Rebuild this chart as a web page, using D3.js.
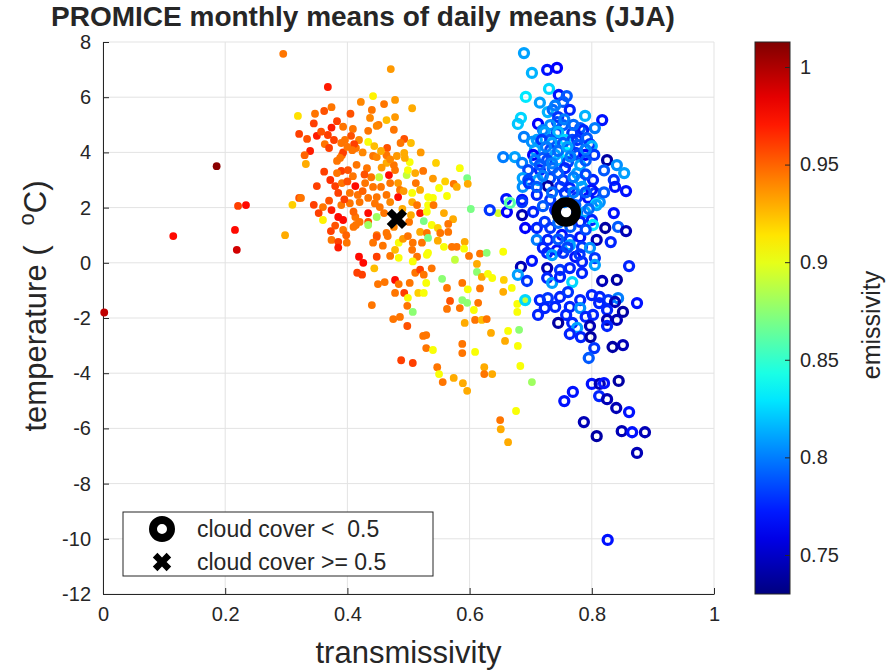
<!DOCTYPE html>
<html>
<head>
<meta charset="utf-8">
<title>PROMICE monthly means of daily means (JJA)</title>
<script src="https://d3js.org/d3.v7.min.js"></script>
<style>
  body { margin: 0; background: #fff; }
  text { font-family: "Liberation Sans", Arial, Helvetica, sans-serif; fill: #262626; }
</style>
</head>
<body>
<script>
var width = 888, height = 670;
var margin = { top: 42, right: 174, bottom: 76, left: 103 };

// cloud cover >= 0.5 : [transmissivity, temperature (C), emissivity]
var cloudyPoints = [
  [0.295,7.57,0.945],[0.319,5.32,0.915],[0.321,4.67,0.96],[0.186,3.50,1.01],[0.221,2.06,0.96],
  [0.234,2.09,0.975],[0.310,2.10,0.92],[0.321,2.35,0.955],[0.115,0.97,0.975],[0.216,1.19,0.975],
  [0.298,1.00,0.93],[0.219,0.47,0.99],[0.002,-1.80,0.995],[0.471,7.02,0.935],[0.368,6.37,0.97],
  [0.442,6.04,0.91],[0.422,5.83,0.94],[0.460,5.75,0.945],[0.478,5.90,0.935],[0.506,5.60,0.93],
  [0.347,5.40,0.945],[0.362,5.50,0.955],[0.374,5.64,0.945],[0.405,5.40,0.955],[0.440,5.54,0.945],
  [0.437,5.25,0.94],[0.464,5.17,0.925],[0.478,5.28,0.935],[0.451,5.00,0.945],[0.476,4.82,0.945],
  [0.383,5.13,0.96],[0.374,4.90,0.97],[0.393,4.93,0.945],[0.409,4.85,0.945],[0.434,4.78,0.945],
  [0.448,4.96,0.94],[0.334,4.49,0.955],[0.350,4.60,0.97],[0.368,4.63,0.96],[0.363,4.30,0.945],
  [0.370,4.16,0.96],[0.339,4.05,0.97],[0.390,4.34,0.945],[0.406,4.60,0.955],[0.419,4.45,0.94],
  [0.414,4.16,0.945],[0.434,4.38,0.905],[0.444,4.23,0.925],[0.465,4.16,0.955],[0.493,4.49,0.955],
  [0.487,4.34,0.945],[0.504,4.34,0.925],[0.332,3.58,0.93],[0.383,3.69,0.945],[0.391,3.90,0.945],
  [0.442,3.87,0.945],[0.448,3.83,0.94],[0.464,3.90,0.945],[0.481,3.87,0.935],[0.493,3.98,0.93],
  [0.502,3.65,0.905],[0.545,3.62,0.92],[0.584,3.43,0.905],[0.464,3.62,0.93],[0.476,3.54,0.945],
  [0.390,3.33,0.96],[0.383,3.25,0.945],[0.401,3.36,0.955],[0.409,3.14,0.945],[0.432,3.43,0.945],
  [0.439,3.10,0.945],[0.452,3.10,0.89],[0.468,3.18,0.975],[0.478,3.36,0.945],[0.497,3.18,0.89],
  [0.499,3.36,0.905],[0.511,3.25,0.93],[0.524,3.33,0.945],[0.596,3.07,0.87],[0.350,2.78,0.96],
  [0.380,2.78,0.96],[0.391,2.89,0.945],[0.413,2.78,0.975],[0.429,2.89,0.945],[0.442,2.75,0.945],
  [0.455,2.75,0.945],[0.470,2.89,0.945],[0.483,2.89,0.935],[0.486,2.64,0.945],[0.506,2.53,0.905],
  [0.512,2.89,0.945],[0.519,2.64,0.93],[0.532,2.38,0.905],[0.540,2.35,0.905],[0.550,2.71,0.905],
  [0.563,2.42,0.905],[0.574,2.86,0.945],[0.579,2.75,0.93],[0.597,2.86,0.93],[0.385,2.53,0.96],
  [0.404,2.53,0.945],[0.417,2.46,0.945],[0.434,2.35,0.945],[0.448,2.38,0.945],[0.464,2.46,0.945],
  [0.483,2.38,0.975],[0.506,2.20,0.93],[0.324,2.35,0.945],[0.360,2.02,0.945],[0.374,1.91,0.97],
  [0.390,2.09,0.945],[0.404,2.16,0.945],[0.420,2.20,0.945],[0.434,1.80,0.975],[0.453,2.02,0.945],
  [0.514,2.09,0.945],[0.519,1.80,0.97],[0.532,2.09,0.905],[0.541,2.09,0.945],[0.558,1.80,0.93],
  [0.573,1.58,0.93],[0.602,1.95,0.87],[0.353,1.80,0.96],[0.360,1.55,0.91],[0.385,1.66,0.975],
  [0.393,1.55,0.975],[0.413,1.66,0.945],[0.420,1.48,0.945],[0.434,1.48,0.955],[0.448,1.66,0.88],
  [0.434,1.37,0.88],[0.373,1.15,0.96],[0.393,1.19,0.945],[0.410,1.30,0.945],[0.501,1.48,0.945],
  [0.504,1.73,0.93],[0.525,1.51,0.87],[0.538,1.37,0.905],[0.548,1.26,0.92],[0.565,1.41,0.945],
  [0.565,1.12,0.945],[0.448,1.00,0.945],[0.464,1.08,0.945],[0.519,1.12,0.93],[0.530,1.08,0.945],
  [0.552,1.08,0.945],[0.374,0.83,0.945],[0.385,0.76,0.96],[0.385,0.55,0.97],[0.399,0.73,0.945],
  [0.414,1.37,0.945],[0.448,0.94,0.955],[0.466,0.97,0.945],[0.442,0.73,0.945],[0.458,0.62,0.945],
  [0.484,0.73,0.905],[0.478,0.47,0.925],[0.491,0.87,0.935],[0.499,0.97,0.945],[0.507,0.73,0.945],
  [0.522,0.73,0.945],[0.532,0.90,0.87],[0.532,0.36,0.905],[0.506,0.47,0.945],[0.514,0.22,0.945],
  [0.507,0.05,0.905],[0.530,0.29,0.905],[0.548,0.80,0.93],[0.558,0.58,0.905],[0.571,0.58,0.945],
  [0.579,0.58,0.945],[0.592,0.76,0.93],[0.591,0.51,0.905],[0.576,0.11,0.89],[0.599,0.25,0.945],
  [0.617,0.33,0.945],[0.628,0.36,0.875],[0.655,0.40,0.905],[0.448,0.22,0.96],[0.470,0.25,0.945],
  [0.484,0.18,0.905],[0.419,0.22,0.975],[0.426,0.00,0.975],[0.444,-0.20,0.925],[0.416,-0.36,0.96],
  [0.424,-0.43,0.96],[0.450,-0.77,0.945],[0.461,-0.70,0.945],[0.478,-0.62,0.975],[0.484,-0.77,0.945],
  [0.502,-0.73,0.945],[0.478,-1.09,0.945],[0.493,-1.09,0.96],[0.499,-1.27,0.905],[0.498,-1.56,0.945],
  [0.507,-1.78,0.875],[0.516,-1.09,0.92],[0.525,-1.09,0.905],[0.511,-0.36,0.945],[0.519,-0.25,0.96],
  [0.525,-0.43,0.945],[0.529,-0.73,0.905],[0.538,-0.20,0.945],[0.555,-0.58,0.875],[0.563,-0.91,0.945],
  [0.568,-1.38,0.955],[0.588,-0.73,0.945],[0.597,-0.96,0.905],[0.588,-1.35,0.875],[0.596,-1.45,0.875],
  [0.584,-1.64,0.945],[0.563,-1.67,0.945],[0.614,-1.45,0.945],[0.607,-1.71,0.905],[0.617,-0.93,0.945],
  [0.612,-0.04,0.93],[0.612,-0.33,0.875],[0.620,-0.51,0.93],[0.630,-0.40,0.905],[0.637,-0.55,0.905],
  [0.655,-1.05,0.93],[0.656,-0.62,0.92],[0.669,-0.91,0.905],[0.678,-1.49,0.905],[0.678,-1.78,0.905],
  [0.691,-1.35,0.89],[0.440,-1.53,0.945],[0.475,-2.04,0.945],[0.486,-1.96,0.945],[0.498,-2.29,0.955],
  [0.524,-2.65,0.945],[0.529,-2.62,0.945],[0.529,-3.09,0.945],[0.540,-3.16,0.905],[0.488,-3.53,0.96],
  [0.507,-3.63,0.96],[0.588,-2.94,0.945],[0.588,-3.27,0.945],[0.592,-2.18,0.93],[0.609,-2.07,0.945],
  [0.620,-2.07,0.925],[0.628,-2.04,0.945],[0.635,-2.54,0.93],[0.609,-3.23,0.905],[0.658,-2.83,0.93],
  [0.663,-2.47,0.905],[0.681,-2.43,0.875],[0.679,-3.01,0.905],[0.683,-3.74,0.905],[0.624,-3.78,0.93],
  [0.624,-4.03,0.945],[0.637,-4.03,0.93],[0.547,-3.78,0.945],[0.550,-4.03,0.905],[0.556,-4.32,0.945],
  [0.574,-4.17,0.93],[0.589,-4.36,0.93],[0.596,-4.64,0.93],[0.702,-4.32,0.88],[0.676,-5.37,0.905],
  [0.650,-5.70,0.945],[0.651,-6.03,0.93],[0.663,-6.50,0.93],[0.647,1.80,0.895],[0.396,4.45,0.945],
  [0.411,4.30,0.96],[0.393,4.00,0.96],[0.408,4.08,0.945],[0.388,3.80,0.945],[0.494,3.80,0.93],
  [0.362,3.30,0.96],[0.357,4.75,0.955],[0.378,4.45,0.96],[0.400,4.20,0.945],[0.425,4.00,0.94],
  [0.455,4.05,0.93],[0.470,3.75,0.94],[0.415,3.55,0.945],[0.428,3.20,0.955],[0.456,3.45,0.935],
  [0.372,3.00,0.965],[0.400,2.95,0.955],[0.425,2.60,0.95],[0.395,2.30,0.96],[0.445,2.15,0.945],
  [0.470,2.20,0.94],[0.492,2.60,0.935],[0.370,2.25,0.955],[0.345,2.10,0.96],[0.410,1.85,0.95],
  [0.460,1.80,0.945],[0.490,1.95,0.93],[0.530,1.85,0.905],[0.380,1.35,0.955],[0.398,1.00,0.95],
  [0.476,1.30,0.94],[0.540,3.05,0.935],[0.560,2.95,0.92],[0.520,4.00,0.935],[0.345,5.05,0.96],
  [0.330,3.90,0.95]
];

// cloud cover < 0.5 : [transmissivity, temperature (C), emissivity]
var clearPoints = [
  [0.689,7.60,0.81],[0.702,6.88,0.815],[0.727,6.99,0.77],[0.743,7.06,0.765],[0.730,6.30,0.825],
  [0.692,6.01,0.83],[0.746,6.08,0.77],[0.759,6.04,0.79],[0.753,5.83,0.79],[0.764,5.54,0.775],
  [0.728,5.46,0.815],[0.736,5.54,0.795],[0.745,5.28,0.78],[0.789,5.32,0.815],[0.817,5.17,0.77],
  [0.684,5.25,0.825],[0.679,5.03,0.82],[0.712,5.03,0.765],[0.743,5.10,0.785],[0.732,4.99,0.805],
  [0.753,4.99,0.79],[0.720,4.81,0.80],[0.743,4.70,0.785],[0.781,4.88,0.79],[0.805,4.88,0.80],
  [0.723,4.74,0.81],[0.745,4.74,0.815],[0.768,4.70,0.78],[0.786,4.81,0.775],[0.689,4.56,0.80],
  [0.710,4.45,0.81],[0.732,4.45,0.79],[0.702,4.38,0.805],[0.718,4.45,0.78],[0.735,4.34,0.81],
  [0.756,4.45,0.825],[0.768,4.45,0.785],[0.753,4.34,0.79],[0.776,4.45,0.78],[0.777,4.27,0.79],
  [0.792,4.52,0.79],[0.797,4.30,0.78],[0.800,4.23,0.815],[0.707,4.09,0.81],[0.732,4.09,0.785],
  [0.655,3.83,0.80],[0.674,3.83,0.81],[0.686,3.62,0.80],[0.704,3.91,0.765],[0.720,3.80,0.79],
  [0.740,3.91,0.81],[0.759,3.98,0.835],[0.773,3.98,0.78],[0.777,3.91,0.785],[0.789,3.91,0.765],
  [0.804,3.91,0.78],[0.825,3.72,0.74],[0.841,3.54,0.805],[0.853,3.25,0.81],[0.707,3.72,0.80],
  [0.727,3.72,0.785],[0.745,3.72,0.815],[0.761,3.65,0.785],[0.781,3.54,0.81],[0.696,3.36,0.785],
  [0.715,3.36,0.775],[0.736,3.43,0.795],[0.756,3.43,0.775],[0.776,3.25,0.81],[0.687,3.07,0.81],
  [0.696,3.00,0.785],[0.712,3.00,0.81],[0.732,3.07,0.785],[0.753,3.00,0.78],[0.781,3.00,0.81],
  [0.802,3.00,0.775],[0.836,3.00,0.78],[0.838,2.75,0.77],[0.856,2.60,0.77],[0.687,2.75,0.805],
  [0.697,2.89,0.78],[0.728,2.78,0.74],[0.748,2.75,0.78],[0.764,2.71,0.775],[0.784,2.75,0.81],
  [0.805,2.53,0.78],[0.800,2.64,0.77],[0.686,2.28,0.77],[0.710,2.46,0.775],[0.732,2.28,0.78],
  [0.756,2.53,0.78],[0.776,2.38,0.78],[0.794,2.35,0.77],[0.813,2.20,0.805],[0.807,2.13,0.83],
  [0.633,1.91,0.78],[0.660,2.31,0.77],[0.661,1.84,0.765],[0.666,2.17,0.86],[0.686,2.20,0.78],
  [0.686,1.73,0.745],[0.704,1.84,0.775],[0.776,1.80,0.78],[0.789,1.84,0.81],[0.808,2.09,0.81],
  [0.836,1.80,0.77],[0.740,1.91,0.775],[0.773,2.09,0.79],[0.691,1.26,0.765],[0.710,1.26,0.775],
  [0.723,1.48,0.78],[0.732,1.26,0.78],[0.781,1.48,0.775],[0.800,1.55,0.775],[0.802,1.37,0.83],
  [0.822,1.26,0.74],[0.843,1.30,0.79],[0.856,1.15,0.745],[0.710,0.83,0.80],[0.728,0.83,0.775],
  [0.751,1.01,0.77],[0.764,0.83,0.78],[0.781,0.93,0.77],[0.808,0.83,0.745],[0.831,0.75,0.775],
  [0.720,0.54,0.775],[0.743,0.46,0.77],[0.764,0.64,0.81],[0.784,0.57,0.78],[0.797,0.54,0.805],
  [0.727,0.36,0.775],[0.735,0.28,0.81],[0.753,0.36,0.78],[0.773,0.21,0.77],[0.784,0.03,0.775],
  [0.805,0.17,0.78],[0.805,-0.08,0.81],[0.861,-0.12,0.775],[0.702,0.07,0.77],[0.684,-0.15,0.745],
  [0.727,-0.19,0.745],[0.748,-0.26,0.78],[0.764,-0.19,0.775],[0.679,-0.44,0.81],[0.694,-0.66,0.78],
  [0.727,-0.55,0.775],[0.735,-0.73,0.81],[0.748,-0.51,0.775],[0.768,-0.70,0.825],[0.784,-0.37,0.775],
  [0.817,-0.66,0.745],[0.841,-0.62,0.74],[0.715,-1.35,0.775],[0.728,-1.28,0.78],[0.691,-1.35,0.825],
  [0.748,-1.24,0.775],[0.761,-1.06,0.78],[0.781,-1.35,0.775],[0.800,-1.17,0.775],[0.813,-1.24,0.775],
  [0.827,-1.35,0.78],[0.843,-1.28,0.80],[0.874,-1.46,0.77],[0.812,-1.46,0.775],[0.838,-1.42,0.745],
  [0.723,-1.64,0.775],[0.712,-1.89,0.775],[0.740,-1.60,0.775],[0.764,-1.60,0.775],[0.781,-1.64,0.805],
  [0.758,-1.89,0.775],[0.802,-1.89,0.775],[0.825,-1.71,0.775],[0.851,-1.78,0.74],[0.745,-2.18,0.74],
  [0.768,-2.18,0.775],[0.790,-1.96,0.775],[0.797,-2.29,0.745],[0.825,-2.07,0.745],[0.841,-2.07,0.745],
  [0.825,-2.29,0.775],[0.776,-2.36,0.81],[0.764,-2.58,0.775],[0.782,-2.69,0.775],[0.798,-2.69,0.74],
  [0.804,-3.09,0.78],[0.795,-3.45,0.79],[0.834,-3.05,0.74],[0.851,-2.98,0.745],[0.844,-4.28,0.74],
  [0.800,-4.39,0.77],[0.813,-4.39,0.745],[0.820,-4.36,0.77],[0.812,-4.83,0.775],[0.825,-4.94,0.745],
  [0.840,-5.26,0.745],[0.861,-5.41,0.77],[0.769,-4.68,0.77],[0.755,-5.01,0.77],[0.787,-5.77,0.745],
  [0.808,-6.28,0.74],[0.849,-6.10,0.745],[0.866,-6.14,0.77],[0.887,-6.14,0.745],[0.874,-6.89,0.745],
  [0.826,-10.04,0.77],[0.715,5.80,0.81],[0.740,5.70,0.80],[0.755,5.20,0.80],[0.770,5.00,0.795],
  [0.725,4.20,0.80],[0.745,4.05,0.795],[0.760,4.20,0.81],[0.790,4.10,0.80],[0.715,3.55,0.79],
  [0.735,3.60,0.80],[0.765,3.85,0.80],[0.790,3.70,0.79],[0.720,3.15,0.80],[0.745,3.25,0.79],
  [0.770,3.10,0.80],[0.790,3.20,0.785],[0.710,2.75,0.79],[0.735,2.55,0.795],[0.770,2.55,0.80],
  [0.790,2.55,0.79],[0.720,2.05,0.79],[0.755,2.20,0.80],[0.795,1.95,0.795],[0.745,1.45,0.795],
  [0.765,1.30,0.79],[0.790,1.20,0.785],[0.745,0.85,0.79],[0.760,0.55,0.785],[0.780,0.30,0.78],
  [0.820,2.55,0.79],[0.820,3.35,0.79]
];

// overall means [transmissivity, temperature]
var meanCloudy = [0.481, 1.59];
var meanClear = [0.758, 1.84];

var xTicks = [0, 0.2, 0.4, 0.6, 0.8, 1];
var yTicks = [-12, -10, -8, -6, -4, -2, 0, 2, 4, 6, 8];
var cTicks = [0.75, 0.8, 0.85, 0.9, 0.95, 1];
var cRange = [0.7300, 1.0128];
var legendLabels = ["cloud cover <  0.5", "cloud cover >= 0.5"];

var axisColor = "#262626";
var gridColor = "#e3e3e3";

// MATLAB jet colormap
function jet(t) {
  var c = function (v) { return Math.round(255 * Math.max(0, Math.min(1, v))); };
  return "rgb(" + c(1.5 - Math.abs(4 * t - 3)) + "," + c(1.5 - Math.abs(4 * t - 2)) + "," + c(1.5 - Math.abs(4 * t - 1)) + ")";
}

var svg = d3.select("body").append("svg")
  .attr("width", width).attr("height", height)
  .style("display", "block");

var x = d3.scaleLinear().domain([0, 1]).range([margin.left, width - margin.right]);
var y = d3.scaleLinear().domain([-12, 8]).range([height - margin.bottom, margin.top]);
var color = d3.scaleSequential(jet).domain(cRange);

// grid
svg.append("g").selectAll("line.gx").data(xTicks).enter().append("line")
  .attr("x1", function (d) { return x(d); }).attr("x2", function (d) { return x(d); })
  .attr("y1", y(-12)).attr("y2", y(8))
  .attr("stroke", gridColor).attr("stroke-width", 1);
svg.append("g").selectAll("line.gy").data(yTicks).enter().append("line")
  .attr("x1", x(0)).attr("x2", x(1))
  .attr("y1", function (d) { return y(d); }).attr("y2", function (d) { return y(d); })
  .attr("stroke", gridColor).attr("stroke-width", 1);

// axes
var gx = svg.append("g")
  .attr("transform", "translate(0," + y(-12) + ")")
  .call(d3.axisBottom(x).tickValues(xTicks).tickFormat(d3.format("~g")).tickSizeInner(-6).tickSizeOuter(0).tickPadding(13));
var gy = svg.append("g")
  .attr("transform", "translate(" + x(0) + ",0)")
  .call(d3.axisLeft(y).tickValues(yTicks).tickSizeInner(-6).tickSizeOuter(0).tickPadding(12));
[gx, gy].forEach(function (g) {
  g.selectAll("path, line").attr("stroke", axisColor);
  g.selectAll("text").attr("font-size", "20px").attr("fill", axisColor)
    .style("font-family", "'Liberation Sans', Arial, sans-serif");
});
gy.selectAll("text").text(function (d) { return d < 0 ? "-" + Math.abs(d) : d; });

// cloudy points (filled dots)
svg.append("g").selectAll("circle").data(cloudyPoints).enter().append("circle")
  .attr("cx", function (d) { return x(d[0]); })
  .attr("cy", function (d) { return y(d[1]); })
  .attr("r", 3.9)
  .attr("fill", function (d) { return color(d[2]); });

// clear points (rings)
svg.append("g").selectAll("circle").data(clearPoints).enter().append("circle")
  .attr("cx", function (d) { return x(d[0]); })
  .attr("cy", function (d) { return y(d[1]); })
  .attr("r", 4.5)
  .attr("fill", "none")
  .attr("stroke-width", 3.3)
  .attr("stroke", function (d) { return color(d[2]); });

// means
var xPath = d3.symbol().type(d3.symbolCross).size(260)();
svg.append("circle")
  .attr("cx", x(meanClear[0])).attr("cy", y(meanClear[1]))
  .attr("r", 10).attr("fill", "none").attr("stroke", "#000").attr("stroke-width", 9.5);
svg.append("path")
  .attr("d", xPath)
  .attr("transform", "translate(" + x(meanCloudy[0]) + "," + y(meanCloudy[1]) + ") rotate(45)")
  .attr("fill", "#000");

// legend
var lg = svg.append("g").attr("transform", "translate(123,512)");
lg.append("rect").attr("width", 310).attr("height", 64)
  .attr("fill", "#fff").attr("stroke", axisColor).attr("stroke-width", 1);
lg.append("circle").attr("cx", 39).attr("cy", 17).attr("r", 9).attr("fill", "none")
  .attr("stroke", "#000").attr("stroke-width", 8);
lg.append("path").attr("d", xPath)
  .attr("transform", "translate(39,50) rotate(45) scale(0.9)").attr("fill", "#000");
lg.selectAll("text.lab").data(legendLabels).enter().append("text")
  .attr("x", 74).attr("y", function (d, i) { return 25 + i * 33; })
  .attr("font-size", "23px").attr("fill", "#000")
  .style("white-space", "pre")
  .text(function (d) { return d; });

// colorbar
var cbX = 755, cbW = 35;
var cy = d3.scaleLinear().domain(cRange).range([y(-12), y(8)]);
var grad = svg.append("defs").append("linearGradient").attr("id", "jetgrad")
  .attr("x1", 0).attr("y1", 1).attr("x2", 0).attr("y2", 0);
d3.range(0, 1.0001, 0.05).forEach(function (t) {
  grad.append("stop").attr("offset", t).attr("stop-color", jet(t));
});
svg.append("rect").attr("x", cbX).attr("y", y(8)).attr("width", cbW).attr("height", y(-12) - y(8))
  .attr("fill", "url(#jetgrad)").attr("stroke", axisColor).attr("stroke-width", 1);
var gc = svg.append("g").attr("transform", "translate(" + (cbX + cbW) + ",0)")
  .call(d3.axisRight(cy).tickValues(cTicks).tickFormat(d3.format("~g")).tickSizeInner(-5).tickSizeOuter(0).tickPadding(10));
gc.select("path").remove();
gc.selectAll("line").attr("stroke", axisColor);
gc.selectAll("text").attr("font-size", "20px").attr("fill", axisColor)
  .style("font-family", "'Liberation Sans', Arial, sans-serif");

// labels
svg.append("text").attr("x", 363).attr("y", 26)
  .attr("text-anchor", "middle").attr("font-size", "28px").attr("font-weight", "bold").attr("fill", "#000")
  .text("PROMICE monthly means of daily means (JJA)");
svg.append("text").attr("x", (x(0) + x(1)) / 2).attr("y", 663)
  .attr("text-anchor", "middle").attr("font-size", "31px")
  .text("transmissivity");
var yl = svg.append("text")
  .attr("transform", "translate(46,306) rotate(-90)")
  .attr("text-anchor", "middle").attr("font-size", "31px");
yl.append("tspan").text("temperature (");
yl.append("tspan").attr("dx", 20).attr("dy", -12).attr("font-size", "22px").text("o");
yl.append("tspan").attr("dy", 12).text("C)");
svg.append("text")
  .attr("transform", "translate(880,325) rotate(-90)")
  .attr("text-anchor", "middle").attr("font-size", "25px")
  .text("emissivity");
</script>
</body>
</html>
